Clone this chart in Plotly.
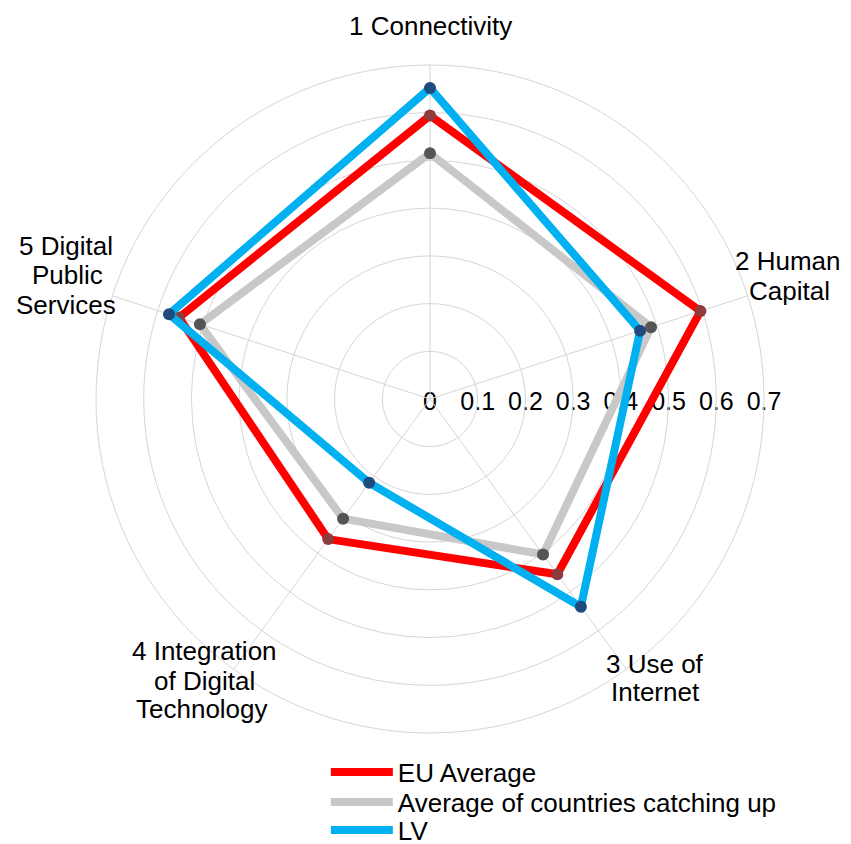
import plotly.graph_objects as go

categories = ["1 Connectivity", "2 Human Capital", "3 Use of Internet",
              "4 Integration of Digital Technology", "5 Digital Public Services"]
# category labels, one list of text lines per axis
category_lines = [["1 Connectivity"], ["2 Human", "Capital"], ["3 Use of", "Internet"],
                  ["4 Integration", "of Digital", "Technology"],
                  ["5 Digital", "Public", "Services"]]
radial_ticks = [0, 0.1, 0.2, 0.3, 0.4, 0.5, 0.6, 0.7]
radial_ticktext = ["0", "0.1", "0.2", "0.3", "0.4", "0.5", "0.6", "0.7"]
eu_average = [0.594, 0.596, 0.454, 0.363, 0.553]
catching_up = [0.515, 0.487, 0.403, 0.310, 0.507]
lv = [0.652, 0.463, 0.538, 0.217, 0.575]

series = [
    ("EU Average", eu_average, "#FF0000", "#8E3B3B"),
    ("Average of countries catching up", catching_up, "#C8C8C8", "#555555"),
    ("LV", lv, "#00B0F0", "#1F4A7E"),
]

W, H = 851, 844
OFF = 8            # page body margin offset on screen


def fx(px):   # screen px -> paper x
    return (px - OFF) / W


def fy(py):   # screen px -> paper y
    return 1 - (py - OFF) / H


FONT = "Liberation Sans, Arial, sans-serif"
fig = go.Figure()
legend_ids = ["legend", "legend2", "legend3"]
for (name, vals, col, dot), lg in zip(series, legend_ids):
    fig.add_trace(go.Scatterpolar(
        r=vals + vals[:1], theta=categories + categories[:1],
        mode="lines", name=name, legend=lg,
        line=dict(color=col, width=8), hoverinfo="skip"))
    fig.add_trace(go.Scatterpolar(
        r=vals, theta=categories, mode="markers", showlegend=False,
        marker=dict(color=dot, size=12), hoverinfo="skip"))
# empty cartesian trace so the radial scale axis (below) is drawn
fig.add_trace(go.Scatter(x=[], y=[], showlegend=False, hoverinfo="skip"))

# label line centres on screen
label_pos = [[(430, 26)], [(788, 261), (789, 291)], [(655, 664), (655, 692)],
             [(204, 651), (204, 681), (202, 709)],
             [(66, 246), (67, 275), (66, 305)]]
annotations = []
for lines, poss in zip(category_lines, label_pos):
    for text, (px, py) in zip(lines, poss):
        annotations.append(dict(
            text=text, x=fx(px), y=fy(py), xref="paper", yref="paper",
            xanchor="center", yanchor="middle", showarrow=False,
            font=dict(family=FONT, size=26, color="black")))

# polar geometry (figure px): centre and radius of the 0.7 ring
CX, CY, R = 422, 391, 334
grid = "#D6D6D6"
legend_common = dict(x=0.3735, xanchor="left", yanchor="middle",
                     font=dict(family=FONT, size=26, color="black"),
                     itemwidth=62, bgcolor="rgba(0,0,0,0)")
fig.update_layout(
    width=W, height=H, autosize=False,
    margin=dict(l=0, r=0, t=0, b=0, autoexpand=False),
    paper_bgcolor="white",
    plot_bgcolor="rgba(0,0,0,0)",
    font=dict(family=FONT, size=25, color="black"),
    annotations=annotations,
    polar=dict(
        domain=dict(x=[(CX - R) / W, (CX + R) / W],
                    y=[1 - (CY + R) / H, 1 - (CY - R) / H]),
        bgcolor="rgba(0,0,0,0)",
        radialaxis=dict(range=[0, 0.7], tickvals=radial_ticks, angle=0,
                        showline=False, ticks="", showticklabels=False,
                        gridcolor=grid, gridwidth=1),
        angularaxis=dict(rotation=90, direction="clockwise",
                         showline=True, linecolor=grid, linewidth=1,
                         gridcolor=grid, gridwidth=1,
                         showticklabels=False, ticks=""),
    ),
    xaxis=dict(domain=[CX / W, (CX + R) / W], range=[0, 0.7],
               anchor="free", position=1 - CY / H, side="bottom",
               tickvals=radial_ticks, ticktext=radial_ticktext,
               showgrid=False, zeroline=False, showline=False, ticks="",
               ticklabelstandoff=-15, automargin=False,
               tickfont=dict(family=FONT, size=25, color="black")),
    yaxis=dict(domain=[0, 1], visible=False, showgrid=False, zeroline=False,
               automargin=False),
    legend=dict(y=fy(772), **legend_common),
    legend2=dict(y=fy(802), **legend_common),
    legend3=dict(y=fy(830), **legend_common),
    hovermode=False,
)
fig.write_html("out.html")
